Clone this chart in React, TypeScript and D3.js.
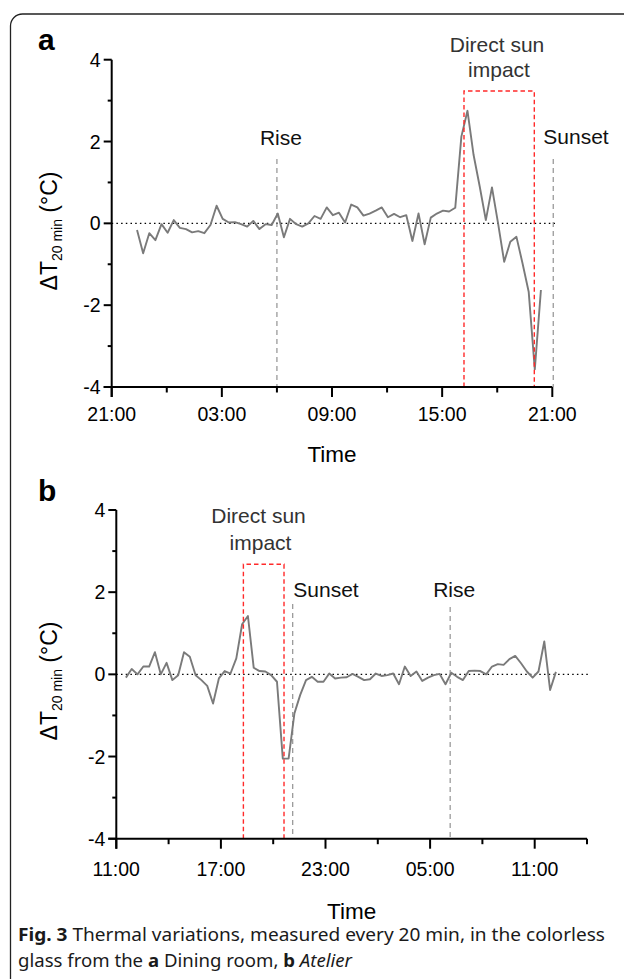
import React from "react";
import * as d3 from "d3";

// ---------- DATA ----------
// ΔT (20 min) values, one every 20 min, panel a (Dining room), starting ~22:23
const panelAValues = [
  -0.16, -0.73, -0.24, -0.41, -0.02, -0.23, 0.08, -0.11, -0.14, -0.22,
  -0.19, -0.24, -0.04, 0.43, 0.11, 0.02, 0.03, -0.02, -0.08, 0.06,
  -0.14, -0.02, -0.04, 0.24, -0.34, 0.11, -0.02, -0.08, 0.0, 0.18,
  0.11, 0.39, 0.2, 0.26, 0.02, 0.46, 0.39, 0.19, 0.24, 0.31,
  0.39, 0.15, 0.23, 0.15, 0.2, -0.43, 0.24, -0.51, 0.14, 0.24,
  0.31, 0.29, 0.38, 2.12, 2.75, 1.67, 0.9, 0.08, 0.88, 0.0,
  -0.94, -0.45, -0.33, -0.98, -1.67, -3.57, -1.63,
];
// panel b (Atelier), starting ~11:33
const panelBValues = [
  -0.08, 0.13, 0.0, 0.19, 0.19, 0.54, 0.0, 0.28, -0.14, -0.02,
  0.54, 0.43, -0.02, -0.14, -0.28, -0.71, -0.1, 0.08, 0.02, 0.39,
  1.22, 1.42, 0.16, 0.08, 0.07, -0.02, -0.18, -2.05, -2.05, -0.95,
  -0.5, -0.14, -0.06, -0.18, -0.18, 0.02, -0.1, -0.08, -0.07, 0.01,
  -0.06, -0.14, -0.12, 0.02, -0.04, -0.02, 0.02, -0.24, 0.19, -0.04,
  0.07, -0.16, -0.08, -0.02, 0.01, -0.24, 0.04, -0.06, -0.14, 0.08,
  0.09, 0.08, 0.0, 0.19, 0.25, 0.23, 0.37, 0.45, 0.27, 0.07,
  -0.08, 0.07, 0.8, -0.38, 0.06,
];
const sampleStepHours = 20 / 60;
const panelAStartHour = 1.38; // hours after 21:00
const panelBStartHour = 0.55; // hours after 11:00

const yTickValues = [-4, -3, -2, -1, 0, 1, 2, 3, 4];
const yTickLabels = ["-4", "", "-2", "", "0", "", "2", "", "4"];

const panelAMajorHours = [0, 6, 12, 18, 24];
const panelAMinorHours = [3, 9, 15, 21];
const panelATickLabels = ["21:00", "03:00", "09:00", "15:00", "21:00"];
const panelBMajorHours = [0, 6, 12, 18, 24];
const panelBMinorHours = [3, 9, 15, 21, 27];
const panelBTickLabels = ["11:00", "17:00", "23:00", "05:00", "11:00"];

// annotation times (hours after the axis start)
const panelARise = 9.0;
const panelASunset = 24.05;
const panelASunBox = [19.19, 23.02];
const panelBRise = 19.15;
const panelBSunset = 10.12;
const panelBSunBox = [7.29, 9.62];

const FONT = "'Liberation Sans', Arial, sans-serif";

type PanelProps = {
  letter: string;
  letterY: number;
  values: number[];
  startHour: number;
  domainHours: number;
  xRange: [number, number];
  yRange: [number, number];
  majorHours: number[];
  minorHours: number[];
  tickLabels: string[];
  rise: number;
  sunset: number;
  sunBox: number[];
  riseTop: number;
  sunsetTop: number;
  boxTop: number;
  riseLabelY: number;
  sunsetLabel: [number, number];
  sunLabel: [number, number, number];
  tickLabelDy: number;
  timeDy: number;
  yLabelY: number;
};

function Panel(p: PanelProps) {
  const x = d3.scaleLinear().domain([0, p.domainHours]).range(p.xRange);
  const y = d3.scaleLinear().domain([-4, 4]).range(p.yRange);
  const pts: [number, number][] = p.values.map((v, i) => [
    p.startHour + i * sampleStepHours,
    v,
  ]);
  const line = d3
    .line<[number, number]>()
    .x((d) => x(d[0]))
    .y((d) => y(d[1]));
  const x0 = p.xRange[0];
  const x1 = p.xRange[1];
  const yBottom = y(-4);
  const yTop = y(4);
  return (
    <g fontFamily={FONT}>
      <text x={38} y={p.letterY} fontSize={30} fontWeight="bold" fill="#000">
        {p.letter}
      </text>
      {/* zero line */}
      <line
        x1={x0}
        x2={x1 + 4}
        y1={y(0)}
        y2={y(0)}
        stroke="#000"
        strokeWidth={1.2}
        strokeDasharray="1.5,3.2"
      />
      {/* rise & sunset lines */}
      <line
        x1={x(p.rise)}
        x2={x(p.rise)}
        y1={p.riseTop}
        y2={yBottom}
        stroke="#888"
        strokeWidth={1.1}
        strokeDasharray="5,4"
      />
      <line
        x1={x(p.sunset)}
        x2={x(p.sunset)}
        y1={p.sunsetTop}
        y2={yBottom}
        stroke="#888"
        strokeWidth={1.1}
        strokeDasharray="5,4"
      />
      {/* data */}
      <path d={line(pts) || ""} fill="none" stroke="#7a7a7a" strokeWidth={1.9} strokeLinejoin="round" />
      {/* sun box */}
      <path
        d={`M${x(p.sunBox[0])},${yBottom}V${p.boxTop}H${x(p.sunBox[1])}V${yBottom}`}
        fill="none"
        stroke="#ff2a2a"
        strokeWidth={1.4}
        strokeDasharray="4.5,3"
      />
      {/* axes */}
      <line x1={x0} x2={x0} y1={yTop} y2={yBottom + 10} stroke="#000" strokeWidth={2} />
      <line x1={x0 - 8} x2={x1} y1={yBottom} y2={yBottom} stroke="#000" strokeWidth={2} />
      {yTickValues.map((v, i) => (
        <g key={"yt" + i}>
          <line
            x1={x0 - (yTickLabels[i] ? 8 : 4)}
            x2={x0}
            y1={y(v)}
            y2={y(v)}
            stroke="#000"
            strokeWidth={2}
          />
          {yTickLabels[i] && (
            <text x={x0 - 11} y={y(v) + 7} fontSize={19.5} textAnchor="end" fill="#000">
              {yTickLabels[i]}
            </text>
          )}
        </g>
      ))}
      {p.majorHours.map((h, i) => (
        <g key={"xt" + i}>
          <line x1={x(h)} x2={x(h)} y1={yBottom} y2={yBottom + 10} stroke="#000" strokeWidth={2} />
          <text x={x(h)} y={yBottom + p.tickLabelDy} fontSize={19.5} textAnchor="middle" fill="#000">
            {p.tickLabels[i]}
          </text>
        </g>
      ))}
      {p.minorHours.map((h, i) => (
        <line key={"xm" + i} x1={x(h)} x2={x(h)} y1={yBottom} y2={yBottom + 5.5} stroke="#000" strokeWidth={2} />
      ))}
      <text x={(x0 + x1) / 2} y={yBottom + p.timeDy} fontSize={22.5} textAnchor="middle" fill="#000">
        Time
      </text>
      <text
        transform={`translate(57,${p.yLabelY}) rotate(-90)`}
        fontSize={23}
        textAnchor="middle"
        fill="#000"
      >
        ΔT
        <tspan fontSize={14} dy={5}>
          20 min
        </tspan>
        <tspan dy={-5}> (°C)</tspan>
      </text>
      {/* annotation labels */}
      <text x={x(p.rise) + 4} y={p.riseLabelY} fontSize={21} textAnchor="middle" fill="#111">
        Rise
      </text>
      <text x={p.sunsetLabel[0]} y={p.sunsetLabel[1]} fontSize={21} textAnchor="middle" fill="#111">
        Sunset
      </text>
      <text x={p.sunLabel[0]} y={p.sunLabel[1]} fontSize={21} textAnchor="middle" fill="#333">
        Direct sun
      </text>
      <text x={p.sunLabel[0] + 2} y={p.sunLabel[2]} fontSize={21} textAnchor="middle" fill="#333">
        impact
      </text>
    </g>
  );
}

export default function App() {
  return (
    <svg
      width={624}
      height={979}
      style={{ position: "absolute", left: 0, top: 0, background: "#fff" }}
    >
      <rect x={0} y={0} width={624} height={979} fill="#fff" />
      <rect x={10.5} y={14} width={700} height={1000} rx={12} ry={12} fill="none" stroke="#222" strokeWidth={1.3} />
      <Panel
        letter="a"
        letterY={50}
        values={panelAValues}
        startHour={panelAStartHour}
        domainHours={24}
        xRange={[111.7, 552.3]}
        yRange={[387, 59.7]}
        majorHours={panelAMajorHours}
        minorHours={panelAMinorHours}
        tickLabels={panelATickLabels}
        rise={panelARise}
        sunset={panelASunset}
        sunBox={panelASunBox}
        riseTop={159}
        sunsetTop={159}
        boxTop={91}
        riseLabelY={145}
        sunsetLabel={[576, 143.5]}
        sunLabel={[497, 51.5, 77]}
        tickLabelDy={33.5}
        timeDy={74.5}
        yLabelY={231}
      />
      <Panel
        letter="b"
        letterY={501}
        values={panelBValues}
        startHour={panelBStartHour}
        domainHours={27}
        xRange={[116.3, 587]}
        yRange={[838.7, 510]}
        majorHours={panelBMajorHours}
        minorHours={panelBMinorHours}
        tickLabels={panelBTickLabels}
        rise={panelBRise}
        sunset={panelBSunset}
        sunBox={panelBSunBox}
        riseTop={607}
        sunsetTop={604}
        boxTop={564.3}
        riseLabelY={597.3}
        sunsetLabel={[326, 597.3]}
        sunLabel={[258.5, 522.7, 550]}
        tickLabelDy={37.5}
        timeDy={80}
        yLabelY={681}
      />
      <g fontFamily="'Noto Sans', 'Open Sans', sans-serif" fontSize={18} fill="#1a1a1a">
        <text x={18} y={941} textLength={587} lengthAdjust="spacingAndGlyphs">
          <tspan fontWeight="bold">Fig. 3</tspan>
          <tspan>{"  Thermal variations, measured every 20 min, in the colorless"}</tspan>
        </text>
        <text x={18} y={967} textLength={334} lengthAdjust="spacingAndGlyphs">
          <tspan>glass from the </tspan>
          <tspan fontWeight="bold">a</tspan>
          <tspan> Dining room, </tspan>
          <tspan fontWeight="bold">b</tspan>
          <tspan> </tspan>
          <tspan fontStyle="italic">Atelier</tspan>
        </text>
      </g>
    </svg>
  );
}
